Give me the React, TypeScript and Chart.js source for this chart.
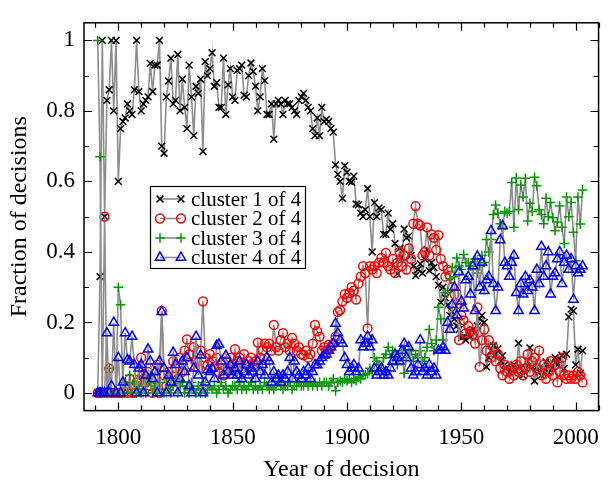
import React, { useEffect, useRef } from "react";
import { Chart, registerables } from "chart.js";

Chart.register(...registerables);

const FONT = '"Liberation Serif", "Times New Roman", serif';

// Years of decision (one value per year)
const firstYear = 1791;
const lastYear = 2003;
const years: number[] = [];
for (let y = firstYear; y <= lastYear; y++) years.push(y);

// cluster 1 of 4 (black x)
const cluster1 = [
  0, 0.33, 1.0, 0.5, 0.83, 0.86, 1.0, 0.8, 1.0, 0.6,
  0.75, 0.77, 0.78, 0.82, 0.8, 0.79, 0.86, 1.0, 0.855, 0.8,
  0.82, 0.83, 0.84, 0.935, 0.855, 0.93, 0.93, 1.0, 0.7, 0.68,
  0.84, 0.885, 0.95, 0.82, 0.83, 0.96, 0.8, 0.89, 0.81, 0.75,
  0.93, 0.84, 0.73, 0.87, 0.85, 0.89, 0.685, 0.94, 0.9, 0.92,
  0.965, 0.87, 0.88, 0.81, 0.81, 0.95, 0.79, 0.874, 0.92, 0.84,
  0.83, 0.915, 0.92, 0.93, 0.845, 0.84, 0.9, 0.936, 0.912, 0.87,
  0.8, 0.84, 0.92, 0.886, 0.79, 0.79, 0.82, 0.72, 0.82, 0.83,
  0.82, 0.79, 0.83, 0.82, 0.82, 0.81, 0.8, 0.79, 0.83, 0.84,
  0.85, 0.83, 0.81, 0.8, 0.75, 0.73, 0.78, 0.73, 0.81, 0.77,
  0.776, 0.77, 0.75, 0.74, 0.647, 0.62, 0.6, 0.552, 0.645, 0.626,
  0.6, 0.598, 0.615, 0.536, 0.534, 0.51, 0.5, 0.52, 0.58, 0.5,
  0.4, 0.54, 0.5, 0.525, 0.52, 0.45, 0.45, 0.51, 0.465, 0.48,
  0.424, 0.338, 0.41, 0.383, 0.465, 0.44, 0.445, 0.39, 0.36, 0.333,
  0.35, 0.366, 0.34, 0.38, 0.407, 0.347, 0.37, 0.356, 0.33, 0.306,
  0.257, 0.3, 0.27, 0.25, 0.22, 0.23, 0.21, 0.19, 0.18, 0.157,
  0.16, 0.15, 0.17, 0.16, 0.18, 0.17, 0.19, 0.21, 0.22, 0.2,
  0.074, 0.1, 0.12, 0.134, 0.11, 0.125, 0.09, 0.106, 0.08, 0.074,
  0.06, 0.07, 0.08, 0.06, 0.141, 0.07, 0.05, 0.07, 0.09, 0.128,
  0.07, 0.034, 0.074, 0.06, 0.05, 0.07, 0.088, 0.06, 0.084, 0.07,
  0.1, 0.08, 0.096, 0.107, 0.07, 0.11, 0.216, 0.238, 0.233, 0.08,
  0.124, 0.056, 0.12,
];

// cluster 2 of 4 (red o)
const cluster2 = [
  0, 0, 0, 0.5, 0, 0.07, 0, 0, 0, 0,
  0, 0, 0.02, 0, 0.04, 0, 0, 0.03, 0.06, 0.1,
  0.05, 0.03, 0.06, 0.02, 0, 0.04, 0.08, 0, 0.233, 0.05,
  0.02, 0.06, 0.03, 0.09, 0.07, 0.04, 0.1, 0.06, 0.12, 0.152,
  0.11, 0.08, 0.13, 0.09, 0.07, 0.12, 0.26, 0.1, 0.08, 0.11,
  0.09, 0.074, 0.1, 0.06, 0.08, 0.05, 0.09, 0.07, 0.1, 0.08,
  0.124, 0.09, 0.1, 0.07, 0.11, 0.08, 0.09, 0.1, 0.08, 0.09,
  0.143, 0.1, 0.12, 0.14, 0.13, 0.14, 0.12, 0.193, 0.13, 0.12,
  0.15, 0.17, 0.13, 0.14, 0.12, 0.156, 0.14, 0.12, 0.13, 0.11,
  0.107, 0.12, 0.1, 0.11, 0.14, 0.193, 0.175, 0.16, 0.12, 0.13,
  0.12, 0.137, 0.13, 0.14, 0.16, 0.23, 0.235, 0.26, 0.28, 0.27,
  0.283, 0.3, 0.29, 0.265, 0.31, 0.33, 0.36, 0.34, 0.183, 0.36,
  0.35, 0.36, 0.34, 0.37, 0.383, 0.37, 0.397, 0.36, 0.35, 0.38,
  0.34, 0.37, 0.4, 0.36, 0.39, 0.35, 0.41, 0.38, 0.48, 0.53,
  0.48, 0.475, 0.39, 0.4, 0.47, 0.39, 0.45, 0.44, 0.406, 0.448,
  0.38, 0.36, 0.33, 0.35, 0.333, 0.3, 0.28, 0.252, 0.15, 0.22,
  0.206, 0.17, 0.19, 0.175, 0.165, 0.14, 0.243, 0.074, 0.15, 0.18,
  0.12, 0.15, 0.1, 0.13, 0.09, 0.11, 0.07, 0.05, 0.08, 0.06,
  0.04, 0.07, 0.05, 0.08, 0.06, 0.09, 0.05, 0.07, 0.11, 0.06,
  0.09, 0.1, 0.07, 0.12, 0.05, 0.08, 0.04, 0.06, 0.09, 0.05,
  0.08, 0.03, 0.06, 0.1, 0.05, 0.04, 0.05, 0.04, 0.05, 0.04,
  0.06, 0.05, 0.03,
];

// cluster 3 of 4 (green +)
const cluster3 = [
  1.0, 0.67, 0, 0, 0, 0.07, 0, 0, 0, 0.3,
  0.25, 0, 0.03, 0, 0.05, 0, 0.03, 0, 0.02, 0,
  0.04, 0, 0.03, 0.05, 0, 0.02, 0, 0.03, 0, 0,
  0.03, 0.01, 0, 0.02, 0.04, 0, 0.02, 0.03, 0, 0.02,
  0, 0.03, 0.01, 0, 0.02, 0, 0.03, 0, 0.01, 0.02,
  0.01, 0.02, 0, 0.01, 0.03, 0.01, 0.02, 0, 0.01, 0.02,
  0.02, 0.01, 0.03, 0.01, 0.02, 0.01, 0.02, 0.03, 0.01, 0.02,
  0.01, 0.02, 0.01, 0.03, 0.02, 0.01, 0.02, 0.01, 0.02, 0.03,
  0.02, 0.01, 0.02, 0.02, 0.03, 0.01, 0.02, 0.02, 0.03, 0.02,
  0.02, 0.03, 0.02, 0.03, 0.02, 0.03, 0.02, 0.03, 0.02, 0.03,
  0.03, 0.02, 0.03, 0.04, 0.006, 0.03, 0.034, 0.03, 0.04, 0.035,
  0.04, 0.03, 0.04, 0.035, 0.045, 0.04, 0.05, 0.052, 0.055, 0.07,
  0.06, 0.1, 0.09, 0.08, 0.07, 0.1, 0.11, 0.13, 0.1, 0.12,
  0.11, 0.08, 0.1, 0.12, 0.056, 0.1, 0.12, 0.12, 0.09, 0.11,
  0.1, 0.12, 0.09, 0.1, 0.13, 0.18, 0.14, 0.12, 0.15, 0.243,
  0.21, 0.15, 0.284, 0.284, 0.325, 0.356, 0.33, 0.383, 0.36, 0.35,
  0.393, 0.37, 0.37, 0.36, 0.35, 0.38, 0.34, 0.36, 0.39, 0.37,
  0.435, 0.4, 0.435, 0.506, 0.533, 0.51, 0.48, 0.465, 0.515, 0.51,
  0.515, 0.597, 0.47, 0.61, 0.52, 0.59, 0.556, 0.609, 0.488, 0.538,
  0.515, 0.612, 0.588, 0.52, 0.506, 0.48, 0.552, 0.5, 0.54, 0.497,
  0.46, 0.485, 0.53, 0.47, 0.424, 0.556, 0.5, 0.54, 0.456, 0.375,
  0.556, 0.479, 0.576,
];

// cluster 4 of 4 (blue triangles)
const cluster4 = [
  0, 0, 0, 0, 0.17, 0, 0.02, 0.2, 0, 0.1,
  0, 0.03, 0.17, 0.094, 0.09, 0.16, 0.08, 0, 0.07, 0.08,
  0, 0.05, 0.124, 0.09, 0.04, 0.06, 0, 0.09, 0.23, 0.07,
  0, 0.05, 0.03, 0.115, 0.08, 0, 0.04, 0.09, 0.06, 0.1,
  0.02, 0, 0.07, 0.16, 0.05, 0.107, 0, 0.03, 0.065, 0.06,
  0.07, 0.04, 0.134, 0.138, 0.09, 0.05, 0.106, 0.06, 0.08, 0.05,
  0.07, 0.05, 0.09, 0.04, 0.06, 0.08, 0.05, 0.07, 0.06, 0.04,
  0.09, 0.06, 0.08, 0.05, 0.1, 0.09, 0.03, 0.06, 0.04, 0.05,
  0.03, 0.05, 0.04, 0.06, 0.1, 0.04, 0.09, 0.06, 0.05, 0.04,
  0.06, 0.05, 0.07, 0.04, 0.06, 0.08, 0.079, 0.09, 0.1, 0.107,
  0.11, 0.12, 0.13, 0.14, 0.197, 0.17, 0.15, 0.14, 0.1, 0.08,
  0.06, 0.07, 0.08, 0.06, 0.07, 0.15, 0.13, 0.14, 0.16, 0.13,
  0.15, 0.07, 0.05, 0.06, 0.07, 0.05, 0.06, 0.05, 0.07, 0.09,
  0.11, 0.1, 0.09, 0.12, 0.14, 0.1, 0.13, 0.07, 0.05, 0.06,
  0.08, 0.15, 0.06, 0.07, 0.05, 0.08, 0.06, 0.07, 0.05, 0.12,
  0.12, 0.13, 0.12, 0.2, 0.18, 0.25, 0.3, 0.22, 0.343, 0.26,
  0.24, 0.32, 0.33, 0.28, 0.36, 0.233, 0.388, 0.3, 0.37, 0.29,
  0.32, 0.33, 0.46, 0.31, 0.233, 0.3, 0.434, 0.474, 0.37, 0.36,
  0.33, 0.37, 0.39, 0.284, 0.233, 0.31, 0.28, 0.33, 0.29, 0.32,
  0.3, 0.233, 0.35, 0.31, 0.415, 0.33, 0.36, 0.4, 0.28, 0.33,
  0.34, 0.38, 0.4, 0.31, 0.37, 0.39, 0.35, 0.38, 0.265, 0.36,
  0.34, 0.35, 0.36,
];

const seriesLabels = ["cluster 1 of 4", "cluster 2 of 4", "cluster 3 of 4", "cluster 4 of 4"];
const seriesValues = [cluster1, cluster2, cluster3, cluster4];
const seriesColors = ["#000000", "#ff0000", "#009a00", "#0000ff"];
const seriesMarkers = ["crossRot", "circle", "cross", "triangle"];
const seriesRadius = [4.8, 4.4, 4.8, 5.4];

const xTickValues = [1800, 1850, 1900, 1950, 2000];
const xTickLabels = ["1800", "1850", "1900", "1950", "2000"];
const yTickValues = [0, 0.2, 0.4, 0.6, 0.8, 1];
const yTickLabels = ["0", "0.2", "0.4", "0.6", "0.8", "1"];
const xTitle = "Year of decision";
const yTitle = "Fraction of decisions";

const LINE_GRAY = "rgb(140,140,140)";

function drawMarker(ctx: CanvasRenderingContext2D, style: string, x: number, y: number, r: number, color: string) {
  ctx.save();
  ctx.strokeStyle = color;
  ctx.lineWidth = 1.5;
  ctx.beginPath();
  if (style === "crossRot") {
    const d = r * Math.SQRT1_2;
    ctx.moveTo(x - d, y - d);
    ctx.lineTo(x + d, y + d);
    ctx.moveTo(x + d, y - d);
    ctx.lineTo(x - d, y + d);
  } else if (style === "circle") {
    ctx.arc(x, y, r, 0, Math.PI * 2);
  } else if (style === "cross") {
    ctx.moveTo(x - r, y);
    ctx.lineTo(x + r, y);
    ctx.moveTo(x, y - r);
    ctx.lineTo(x, y + r);
  } else if (style === "triangle") {
    for (let k = 0; k < 3; k++) {
      const a = -Math.PI / 2 + (k * 2 * Math.PI) / 3;
      const px = x + Math.cos(a) * r;
      const py = y + Math.sin(a) * r;
      if (k === 0) ctx.moveTo(px, py);
      else ctx.lineTo(px, py);
    }
    ctx.closePath();
  }
  ctx.stroke();
  ctx.restore();
}

const framePlugin = {
  id: "frameTicks",
  afterDatasetsDraw(chart: any) {
    const { ctx, chartArea } = chart;
    const { left, right, top, bottom } = chartArea;
    const xs = chart.scales.x;
    const ys = chart.scales.y;
    ctx.save();
    ctx.strokeStyle = "#000";
    ctx.lineWidth = 1.2;
    ctx.beginPath();
    for (let v = 1790; v <= 2010; v += 10) {
      const px = Math.round(xs.getPixelForValue(v)) + 0.5;
      const len = v % 50 === 0 ? 8 : 5;
      ctx.moveTo(px, bottom);
      ctx.lineTo(px, bottom - len);
      ctx.moveTo(px, top);
      ctx.lineTo(px, top + len);
    }
    for (let k = 0; k <= 10; k++) {
      const v = k / 10;
      const py = Math.round(ys.getPixelForValue(v)) + 0.5;
      const len = k % 2 === 0 ? 8 : 5;
      ctx.moveTo(left, py);
      ctx.lineTo(left + len, py);
      ctx.moveTo(right, py);
      ctx.lineTo(right - len, py);
    }
    ctx.stroke();
    ctx.lineWidth = 1.5;
    ctx.strokeRect(left, top, right - left, bottom - top);

    // legend
    const bx = 150, by = 186, bw = 155, bh = 82;
    ctx.fillStyle = "#fff";
    ctx.fillRect(bx, by, bw, bh);
    ctx.lineWidth = 1.2;
    ctx.strokeStyle = "#000";
    ctx.strokeRect(bx + 0.5, by + 0.5, bw, bh);
    ctx.font = `21px ${FONT}`;
    ctx.textBaseline = "middle";
    ctx.textAlign = "left";
    for (let i = 0; i < seriesLabels.length; i++) {
      const ry = 199 + i * 19.5;
      ctx.strokeStyle = LINE_GRAY;
      ctx.lineWidth = 1.6;
      ctx.beginPath();
      ctx.moveTo(160, ry);
      ctx.lineTo(181, ry);
      ctx.stroke();
      drawMarker(ctx, seriesMarkers[i], 160, ry, seriesRadius[i], seriesColors[i]);
      drawMarker(ctx, seriesMarkers[i], 181, ry, seriesRadius[i], seriesColors[i]);
      ctx.fillStyle = "#000";
      ctx.fillText(seriesLabels[i], 191, ry + 1);
    }
    ctx.restore();
  },
};

export default function App() {
  const canvasRef = useRef<HTMLCanvasElement | null>(null);

  useEffect(() => {
    document.body.style.margin = "0";
    const canvas = canvasRef.current;
    if (!canvas) return;
    const datasets = seriesValues.map((vals, i) => ({
      label: seriesLabels[i],
      data: years.map((yr, j) => ({ x: yr, y: vals[j] })),
      borderColor: LINE_GRAY,
      borderWidth: 1.6,
      pointStyle: seriesMarkers[i] as any,
      pointRadius: seriesRadius[i],
      pointBorderColor: seriesColors[i],
      pointBackgroundColor: "rgba(0,0,0,0)",
      pointBorderWidth: 1.5,
      tension: 0,
      fill: false,
      order: 3 - i,
    }));
    const chart = new Chart(canvas, {
      type: "line",
      data: { datasets },
      options: {
        animation: false,
        responsive: false,
        events: [],
        layout: { padding: { left: 0, right: 4, top: 7, bottom: 0 } },
        plugins: { legend: { display: false }, tooltip: { enabled: false } },
        scales: {
          x: {
            type: "linear",
            min: 1785,
            max: 2010,
            grid: { display: false, drawTicks: false },
            border: { display: false },
            afterBuildTicks: (scale: any) => {
              scale.ticks = xTickValues.map((v) => ({ value: v }));
            },
            afterFit: (scale: any) => {
              scale.height = 73.4;
            },
            ticks: {
              color: "#000",
              padding: 14,
              maxRotation: 0,
              autoSkip: false,
              font: { family: FONT, size: 23 },
              callback: (v: any) => {
                const idx = xTickValues.indexOf(Number(v));
                return idx >= 0 ? xTickLabels[idx] : "";
              },
            },
            title: {
              display: true,
              text: xTitle,
              color: "#000",
              font: { family: FONT, size: 24 },
              padding: { top: 0, bottom: 0 },
            },
          },
          y: {
            type: "linear",
            min: -0.05,
            max: 1.05,
            grid: { display: false, drawTicks: false },
            border: { display: false },
            afterBuildTicks: (scale: any) => {
              scale.ticks = yTickValues.map((v) => ({ value: v }));
            },
            afterFit: (scale: any) => {
              scale.width = 84;
            },
            ticks: {
              color: "#000",
              padding: 9,
              autoSkip: false,
              font: { family: FONT, size: 23 },
              callback: (v: any) => {
                const idx = yTickValues.indexOf(Number(v));
                return idx >= 0 ? yTickLabels[idx] : "";
              },
            },
            title: {
              display: true,
              text: yTitle,
              color: "#000",
              font: { family: FONT, size: 24 },
              padding: { top: 5, bottom: 0 },
            },
          },
        },
      },
      plugins: [framePlugin],
    });
    return () => chart.destroy();
  }, []);

  return (
    <div style={{ position: "fixed", left: 0, top: 0, width: 613, height: 484, background: "#fff" }}>
      <canvas ref={canvasRef} width={613} height={484} />
    </div>
  );
}
